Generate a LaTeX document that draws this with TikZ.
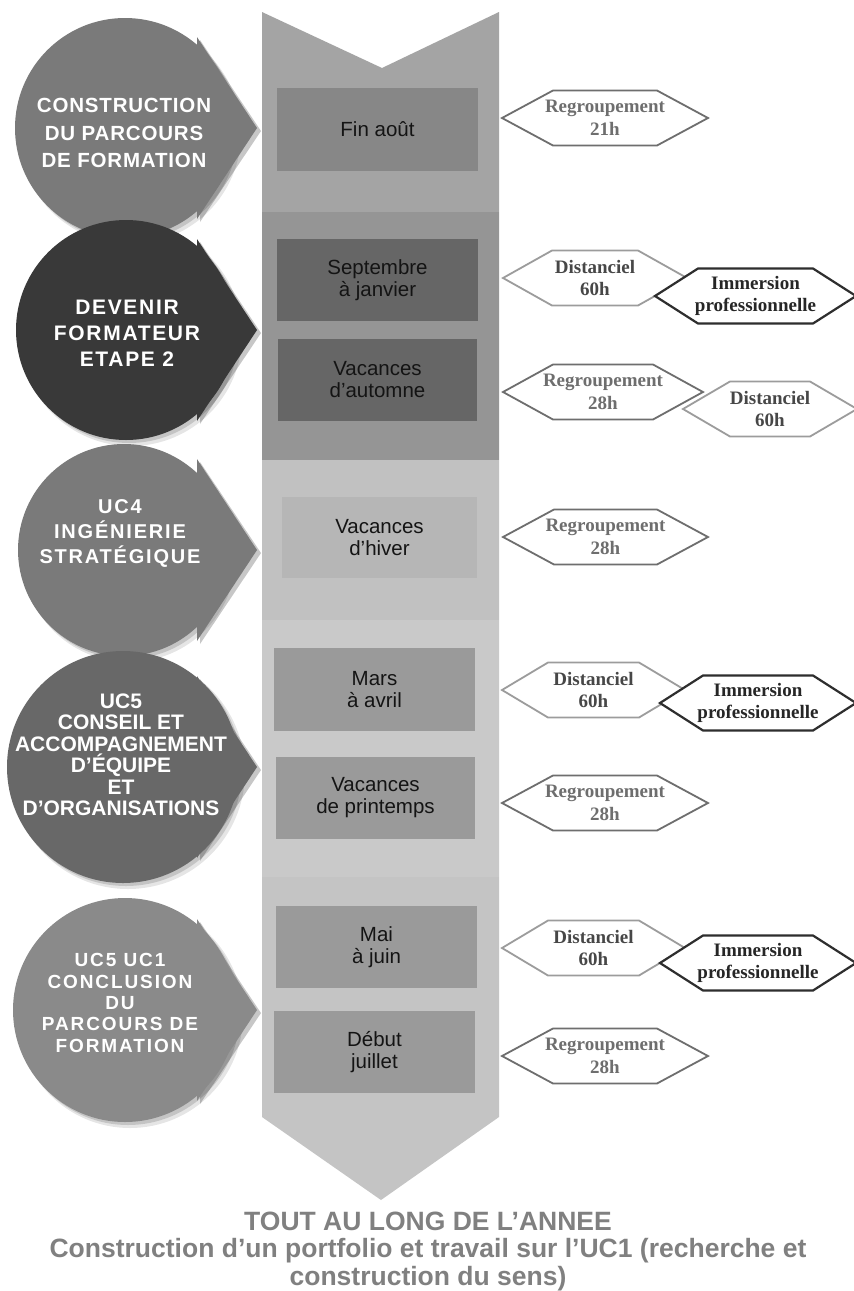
\documentclass[tikz,border=0pt]{standalone}
\usepackage{fontspec}
\setmainfont{Liberation Serif}
\newfontfamily\arialf{Liberation Sans}
\newfontfamily\timesf{Liberation Serif}
\usetikzlibrary{calc}
\definecolor{bandA}{HTML}{A4A4A4}
\definecolor{bandB}{HTML}{959595}
\definecolor{bandC}{HTML}{C1C1C1}
\definecolor{bandD}{HTML}{C9C9C9}
\definecolor{bandE}{HTML}{C4C4C4}
\definecolor{boxA}{HTML}{878787}
\definecolor{boxB}{HTML}{666666}
\definecolor{boxC}{HTML}{B6B6B6}
\definecolor{boxD}{HTML}{9A9A9A}
\definecolor{circA}{HTML}{7A7A7A}
\definecolor{circB}{HTML}{393939}
\definecolor{circC}{HTML}{7A7A7A}
\definecolor{circD}{HTML}{686868}
\definecolor{circE}{HTML}{8A8A8A}
\definecolor{regcol}{HTML}{6E6E6E}
\definecolor{distcol}{HTML}{9C9C9C}
\definecolor{immcol}{HTML}{2E2E2E}
\definecolor{bottomcol}{HTML}{808080}
\newcommand\circarrow[5]{%
  \fill[black,opacity=.10] (#2+5,#3+5) circle (#4+1);
  \fill[black,opacity=.14] (#2+3,#3+3) circle (#4);
  \fill[black,opacity=.22] (197+3,#3-91+3) -- (257+4,#3+3) -- (197+3,#3+91+3) -- cycle;
  \node[circle, fill=#5, minimum size=2*#4, inner sep=0pt] (#1) at (#2,#3) {};
  \fill[#5] (197,#3-91) -- (257,#3) -- (197,#3+91) -- cycle;
}
\newcommand\hexa[7]{%
  \draw[#2line] (#3,#5) -- (#3+#6,#5-27.5) -- (#4-#6,#5-27.5) -- (#4,#5)
     -- (#4-#6,#5+27.5) -- (#3+#6,#5+27.5) -- cycle;
  \node[#2lbl] (#1) at ({(#3+#4)/2},#5) {#7};
}
\begin{document}
\begin{tikzpicture}[x=1pt,y=-1pt,
  datebox/.style={rectangle, inner sep=0pt, align=center, text=black!92,
     font=\arialf\fontsize{20.5}{22}\selectfont},
  circtext/.style={text=white, align=center, inner sep=0pt},
  regline/.style={draw=regcol, fill=white, line width=1.8pt},
  distline/.style={draw=distcol, fill=white, line width=1.8pt},
  immline/.style={draw=immcol, fill=white, line width=2.2pt},
  hexfont/.style={align=center, inner sep=0pt, font=\timesf\bfseries\fontsize{19}{22.5}\selectfont},
  reglbl/.style={hexfont, text=regcol},
  distlbl/.style={hexfont, text=black!72},
  immlbl/.style={hexfont, text=black!85},
]
\useasboundingbox (0,0) rectangle (854,1291);
\fill[white] (0,0) rectangle (854,1291);

% central column
\begin{scope}
  \clip (262,12) -- (382,68) -- (499,12) -- (499,1117) -- (381,1200) -- (262,1117) -- cycle;
  \fill[bandA] (250,0) rectangle (510,212);
  \fill[bandB] (250,212) rectangle (510,460);
  \fill[bandC] (250,460) rectangle (510,620);
  \fill[bandD] (250,620) rectangle (510,877);
  \fill[bandE] (250,877) rectangle (510,1220);
\end{scope}

% date boxes
\node[datebox, fill=boxA, minimum width=201, minimum height=83] (b1) at (377.5,129.5) {Fin août};
\node[datebox, fill=boxB, minimum width=201, minimum height=82] (b2) at (377.5,280) {Septembre\\à janvier};
\node[datebox, fill=boxB, minimum width=199, minimum height=82] (b3) at (377.5,380) {Vacances\\d’automne};
\node[datebox, fill=boxC, minimum width=195, minimum height=81] (b4) at (379.5,537.5) {Vacances\\d’hiver};
\node[datebox, fill=boxD, minimum width=201, minimum height=83] (b5) at (374.5,689.5) {Mars\\à avril};
\node[datebox, fill=boxD, minimum width=199, minimum height=82] (b6) at (375.5,798) {Vacances\\de printemps};
\node[datebox, fill=boxD, minimum width=201, minimum height=82] (b7) at (376.5,947) {Mai\\à juin};
\node[datebox, fill=boxD, minimum width=201, minimum height=82] (b8) at (374.5,1052) {Début\\juillet};

% circles with arrows
\circarrow{c1}{125}{128}{110}{circA}
\circarrow{c2}{126}{330}{110}{circB}
\circarrow{c3}{124}{550}{106}{circC}
\circarrow{c4}{123}{767}{116}{circD}
\circarrow{c5}{125}{1010}{112}{circE}

\node[circtext, font=\arialf\bfseries\fontsize{20.5}{27.5}\selectfont\addfontfeatures{LetterSpace=4}] (t1) at (124,133)
  {CONSTRUCTION\\DU PARCOURS\\DE FORMATION};
\node[circtext, font=\arialf\bfseries\fontsize{21}{26}\selectfont\addfontfeatures{LetterSpace=8}] (t2) at (127,333)
  {DEVENIR\\FORMATEUR\\ETAPE 2};
\node[circtext, font=\arialf\bfseries\fontsize{20}{25}\selectfont\addfontfeatures{LetterSpace=9}] (t3) at (120,533)
  {UC4\\INGÉNIERIE\\STRATÉGIQUE};
\node[circtext, font=\arialf\bfseries\fontsize{21}{21.5}\selectfont] (t4) at (121,755)
  {UC5\\CONSEIL ET\\ACCOMPAGNEMENT\\D’ÉQUIPE\\ET\\D’ORGANISATIONS};
\node[circtext, font=\arialf\bfseries\fontsize{19}{21.3}\selectfont\addfontfeatures{LetterSpace=10}] (t5) at (120,1003)
  {UC5 UC1\\CONCLUSION\\DU\\PARCOURS DE\\FORMATION};

% hexagons
\hexa{h1}{reg}{502}{708}{118}{51}{Regroupement\\21h}
\hexa{h2}{dist}{503}{687}{278}{49}{Distanciel\\60h}
\hexa{h3}{imm}{655}{856}{296}{43}{Immersion\\professionnelle}
\hexa{h5}{dist}{683}{857}{409}{47}{Distanciel\\60h}
\hexa{h4}{reg}{503}{703}{392}{50}{Regroupement\\28h}
\hexa{h6}{reg}{503}{708}{537}{51}{Regroupement\\28h}
\hexa{h7}{dist}{502}{685}{690}{46}{Distanciel\\60h}
\hexa{h8}{imm}{660}{856}{703}{43}{Immersion\\professionnelle}
\hexa{h9}{reg}{502}{708}{803}{51}{Regroupement\\28h}
\hexa{h10}{dist}{502}{685}{948}{46}{Distanciel\\60h}
\hexa{h11}{imm}{660}{856}{963}{43}{Immersion\\professionnelle}
\hexa{h12}{reg}{502}{708}{1056}{51}{Regroupement\\28h}

% bottom text
\node[align=center, inner sep=0pt, text=bottomcol,
      font=\arialf\bfseries\fontsize{26.5}{27.5}\selectfont] (foot) at (428,1251)
  {TOUT AU LONG DE L’ANNEE\\Construction d’un portfolio et travail sur l’UC1 (recherche et\\construction du sens)};
\end{tikzpicture}
\end{document}
